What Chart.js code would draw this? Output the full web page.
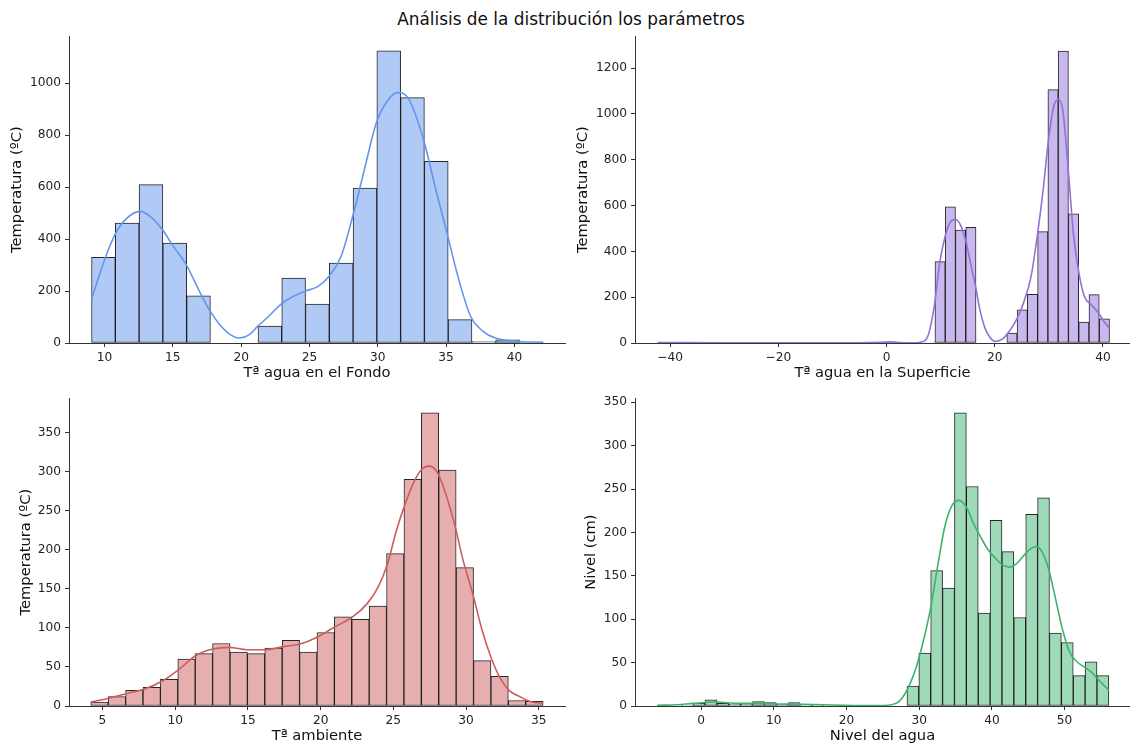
<!DOCTYPE html>
<html>
<head>
<meta charset="utf-8">
<script src="https://cdn.jsdelivr.net/npm/chart.js@4.4.1/dist/chart.umd.min.js"></script>
<style>
html, body { margin: 0; padding: 0; background: #fff; overflow: hidden; }
body { width: 1130px; height: 745px; position: relative; font-family: 'DejaVu Sans', sans-serif; }
#title { position: absolute; left: 0; width: 1142px; top: 9px; line-height: 20px; text-align: center; font-size: 16.9px; color: #111; }
canvas { position: absolute; }
</style>
</head>
<body>
<div id="title">Análisis de la distribución los parámetros</div>
<canvas id="fondoChart" width="570" height="363" style="left:0px;top:25px"></canvas>
<canvas id="superficieChart" width="560" height="363" style="left:570px;top:25px"></canvas>
<canvas id="ambienteChart" width="570" height="359" style="left:0px;top:387px"></canvas>
<canvas id="nivelChart" width="560" height="359" style="left:570px;top:387px"></canvas>
<script>
// histogram counts (bins are equal width)
// Tª agua en el Fondo
const fondoBinStart = 9.05, fondoBinWidth = 1.74;
const fondoCounts = [330, 462, 610, 385, 182, 0, 0, 65, 250, 150, 308, 597, 1125, 945, 700, 90, 5, 12, 1];
const fondoKdeX = [9.07, 10, 10.8, 11.6, 12.6, 13.4, 14.27, 15, 16, 16.9, 17.75, 18.9, 19.9, 20.6, 21.2, 22.0, 22.94, 23.8, 24.7, 25.6, 26.4, 27.3, 28.15, 29.0, 29.9, 30.7, 31.44, 32.2, 33.37, 34.2, 35.1, 36.0, 36.8, 37.7, 38.6, 40.3, 42.1];
const fondoKdeY = [172, 320, 421, 479, 507, 485, 434, 375, 300, 204, 121, 45, 19, 32, 64, 102, 151, 179, 200, 217, 255, 332, 485, 664, 849, 932, 964, 945, 779, 600, 415, 230, 102, 45, 19, 6, 3];
const fondoXTicks = [10, 15, 20, 25, 30, 35, 40];
const fondoYTicks = [0, 200, 400, 600, 800, 1000];

// Tª agua en la Superficie
const superficieBinStart = -42.3, superficieBinWidth = 1.898;
const superficieCounts = [2, 0, 0, 0, 0, 0, 0, 0, 0, 0, 0, 0, 0, 0, 0, 0, 0, 0, 0, 0, 0, 0, 4, 0, 0, 0, 2,
  355, 595, 493, 505, 0, 0, 0, 43, 145, 213, 486, 1106, 1275, 564, 91, 211, 106];
const superficieKdeX = [-42.3, -30, -15, -5, -1, 0.5, 2, 4, 5.5, 6.5, 7.5, 8.85, 9.8, 10.8, 11.8, 12.8, 13.8, 14.7, 15.6, 16.5, 17.3, 18.2, 19.2, 20.1, 21.4, 22.7, 24.0, 25.3, 26.7, 28.0, 29.0, 30.0, 31.0, 31.8, 32.6, 33.6, 34.6, 35.6, 36.6, 37.9, 39.2, 40.2, 41.2];
const superficieKdeY = [2, 1, 1, 1, 3, 5, 3, 1, 1, 5, 22, 165, 347, 463, 528, 539, 508, 440, 340, 240, 140, 65, 22, 7, 17, 51, 101, 174, 289, 492, 680, 900, 1041, 1063, 1012, 752, 463, 300, 202, 166, 130, 94, 65];
const superficieXTicks = [-40, -20, 0, 20, 40];
const superficieYTicks = [0, 200, 400, 600, 800, 1000, 1200];

// Tª ambiente
const ambienteBinStart = 4.2, ambienteBinWidth = 1.196;
const ambienteCounts = [5, 12, 20, 24, 34, 60, 67, 80, 69, 67, 74, 84, 69, 94, 114, 111, 128, 195, 290, 375, 302, 177, 58, 38, 7, 6];
const ambienteKdeX = [4.2, 5.45, 6.7, 7.95, 9.2, 10.2, 11.45, 12.6, 13.7, 14.95, 16.2, 17.45, 18.7, 19.95, 20.95, 22.2, 23.2, 23.95, 24.6, 25.2, 25.8, 26.45, 26.95, 27.45, 27.95, 28.45, 29.2, 29.8, 30.45, 31.1, 31.7, 32.3, 32.95, 33.7, 34.45, 35.3];
const ambienteKdeY = [5, 10, 16, 22, 33, 46, 65, 73, 75, 72, 72, 76, 80, 90, 101, 114, 131, 152, 182, 224, 258, 288, 303, 307, 301, 280, 233, 186, 144, 97, 63, 37, 20, 12, 5.5, 3.4];
const ambienteXTicks = [5, 10, 15, 20, 25, 30, 35];
const ambienteYTicks = [0, 50, 100, 150, 200, 250, 300, 350];

// Nivel del agua
const nivelBinStart = -6.0, nivelBinWidth = 1.634;
const nivelCounts = [1, 0, 1, 3, 7, 3, 2, 2, 5, 4, 2, 4, 1, 1, 0, 0, 0, 0, 0, 0, 0,
  23, 61, 156, 136, 338, 253, 107, 214, 178, 102, 221, 240, 84, 73, 35, 51, 35];
const nivelKdeX = [-6.0, -3.3, -1.1, 2.1, 5.1, 8.0, 10.95, 13.9, 16.85, 19.8, 23.7, 26.2, 27.2, 28.3, 29.6, 30.6, 31.6, 32.6, 33.5, 34.5, 35.5, 36.5, 37.5, 38.5, 39.4, 40.4, 41.4, 42.4, 43.4, 44.35, 45.3, 46.1, 46.8, 47.8, 48.8, 49.75, 50.7, 51.7, 52.7, 53.7, 54.7, 56.1];
const nivelKdeY = [0.8, 1.5, 3, 4.6, 3, 3, 2.3, 2, 1.5, 0.8, 0.4, 1.5, 5, 18, 45, 76, 114, 164, 206, 231, 237, 229, 210, 194, 181, 171, 163, 160, 164, 173, 181, 184, 179, 158, 122, 87, 62, 51, 45, 39, 30, 18];
const nivelXTicks = [0, 10, 20, 30, 40, 50];
const nivelYTicks = [0, 50, 100, 150, 200, 250, 300, 350];

const FONT = 'DejaVu Sans';
const AXIS_COL = '#333';

function fmt(v) {
    return v < 0 ? '\u2212' + Math.abs(v) : String(v);
}

// one histogram + kde panel
function makeChart(id, p) {
    const bars = p.counts.map((c, i) => ({ x: p.binStart + (i + 0.5) * p.binWidth, y: c }));
    const kde = p.kdeX.map((x, i) => ({ x: x, y: p.kdeY[i] }));
    return new Chart(document.getElementById(id), {
        data: {
            datasets: [{
                type: 'line',
                data: kde,
                borderColor: p.line,
                borderWidth: 1.6,
                pointRadius: 0,
                fill: false,
                cubicInterpolationMode: 'monotone',
                order: 1
            }, {
                type: 'bar',
                data: bars,
                backgroundColor: p.fill,
                borderColor: 'rgba(0,0,0,0.85)',
                borderWidth: 1,
                borderSkipped: false,
                barPercentage: 1,
                categoryPercentage: 1,
                grouped: false,
                order: 2
            }]
        },
        options: {
            responsive: false,
            animation: false,
            events: [],
            layout: { padding: { left: 0, right: p.padR, top: 10, bottom: 0 } },
            plugins: { legend: { display: false }, tooltip: { enabled: false } },
            scales: {
                x: {
                    type: 'linear',
                    min: p.xMin, max: p.xMax,
                    offset: false,
                    afterBuildTicks: a => { a.ticks = p.xTicks.map(v => ({ value: v })); },
                    afterFit: s => { s.height = p.xH; },
                    grid: { display: true, drawOnChartArea: false, drawTicks: true, tickLength: 4, tickColor: AXIS_COL, offset: false },
                    border: { display: true, color: AXIS_COL, width: 1 },
                    ticks: { font: { family: FONT, size: 12.2 }, color: '#222', padding: 4, maxRotation: 0, autoSkip: false, callback: fmt },
                    title: { display: true, text: p.xTitle, color: '#111', font: { family: FONT, size: 14.7 }, padding: { top: 0, bottom: p.xTitlePad } }
                },
                y: {
                    type: 'linear',
                    min: 0, max: p.yMax,
                    afterBuildTicks: a => { a.ticks = p.yTicks.map(v => ({ value: v })); },
                    afterFit: s => { s.width = p.yW; },
                    grid: { display: true, drawOnChartArea: false, drawTicks: true, tickLength: 4, tickColor: AXIS_COL },
                    border: { display: true, color: AXIS_COL, width: 1 },
                    ticks: { font: { family: FONT, size: 12.2 }, color: '#222', padding: 4, autoSkip: false, callback: fmt },
                    title: { display: true, text: p.yTitle, color: '#111', font: { family: FONT, size: 14.7 }, padding: { top: p.yTitlePad, bottom: 0 } }
                }
            }
        }
    });
}

makeChart('fondoChart', {
    counts: fondoCounts, binStart: fondoBinStart, binWidth: fondoBinWidth,
    kdeX: fondoKdeX, kdeY: fondoKdeY, xTicks: fondoXTicks, yTicks: fondoYTicks,
    fill: 'rgb(177,201,245)', line: 'rgb(100,149,237)',
    xMin: 7.4, xMax: 43.7, yMax: 1181,
    xTitle: 'Tª agua en el Fondo', yTitle: 'Temperatura (ºC)',
    yW: 69, padR: 5, xH: 45, yTitlePad: 8.2, xTitlePad: 6.2
});

makeChart('superficieChart', {
    counts: superficieCounts, binStart: superficieBinStart, binWidth: superficieBinWidth,
    kdeX: superficieKdeX, kdeY: superficieKdeY, xTicks: superficieXTicks, yTicks: superficieYTicks,
    fill: 'rgb(201,184,237)', line: 'rgb(147,112,219)',
    xMin: -46.5, xMax: 45.0, yMax: 1339,
    xTitle: 'Tª agua en la Superficie', yTitle: 'Temperatura (ºC)',
    yW: 65, padR: 0, xH: 45, yTitlePad: 4.7, xTitlePad: 6.2
});

makeChart('ambienteChart', {
    counts: ambienteCounts, binStart: ambienteBinStart, binWidth: ambienteBinWidth,
    kdeX: ambienteKdeX, kdeY: ambienteKdeY, xTicks: ambienteXTicks, yTicks: ambienteYTicks,
    fill: 'rgb(230,174,174)', line: 'rgb(205,92,92)',
    xMin: 2.7, xMax: 36.8, yMax: 393.7,
    xTitle: 'Tª ambiente', yTitle: 'Temperatura (ºC)',
    yW: 69, padR: 5, xH: 40, yTitlePad: 17.2, xTitlePad: 1.2
});

makeChart('nivelChart', {
    counts: nivelCounts, binStart: nivelBinStart, binWidth: nivelBinWidth,
    kdeX: nivelKdeX, kdeY: nivelKdeY, xTicks: nivelXTicks, yTicks: nivelYTicks,
    fill: 'rgb(158,217,184)', line: 'rgb(60,179,113)',
    xMin: -9.1, xMax: 59.0, yMax: 354.6,
    xTitle: 'Nivel del agua', yTitle: 'Nivel (cm)',
    yW: 65, padR: 0, xH: 40, yTitlePad: 12.2, xTitlePad: 1.2
});
</script>
</body>
</html>
